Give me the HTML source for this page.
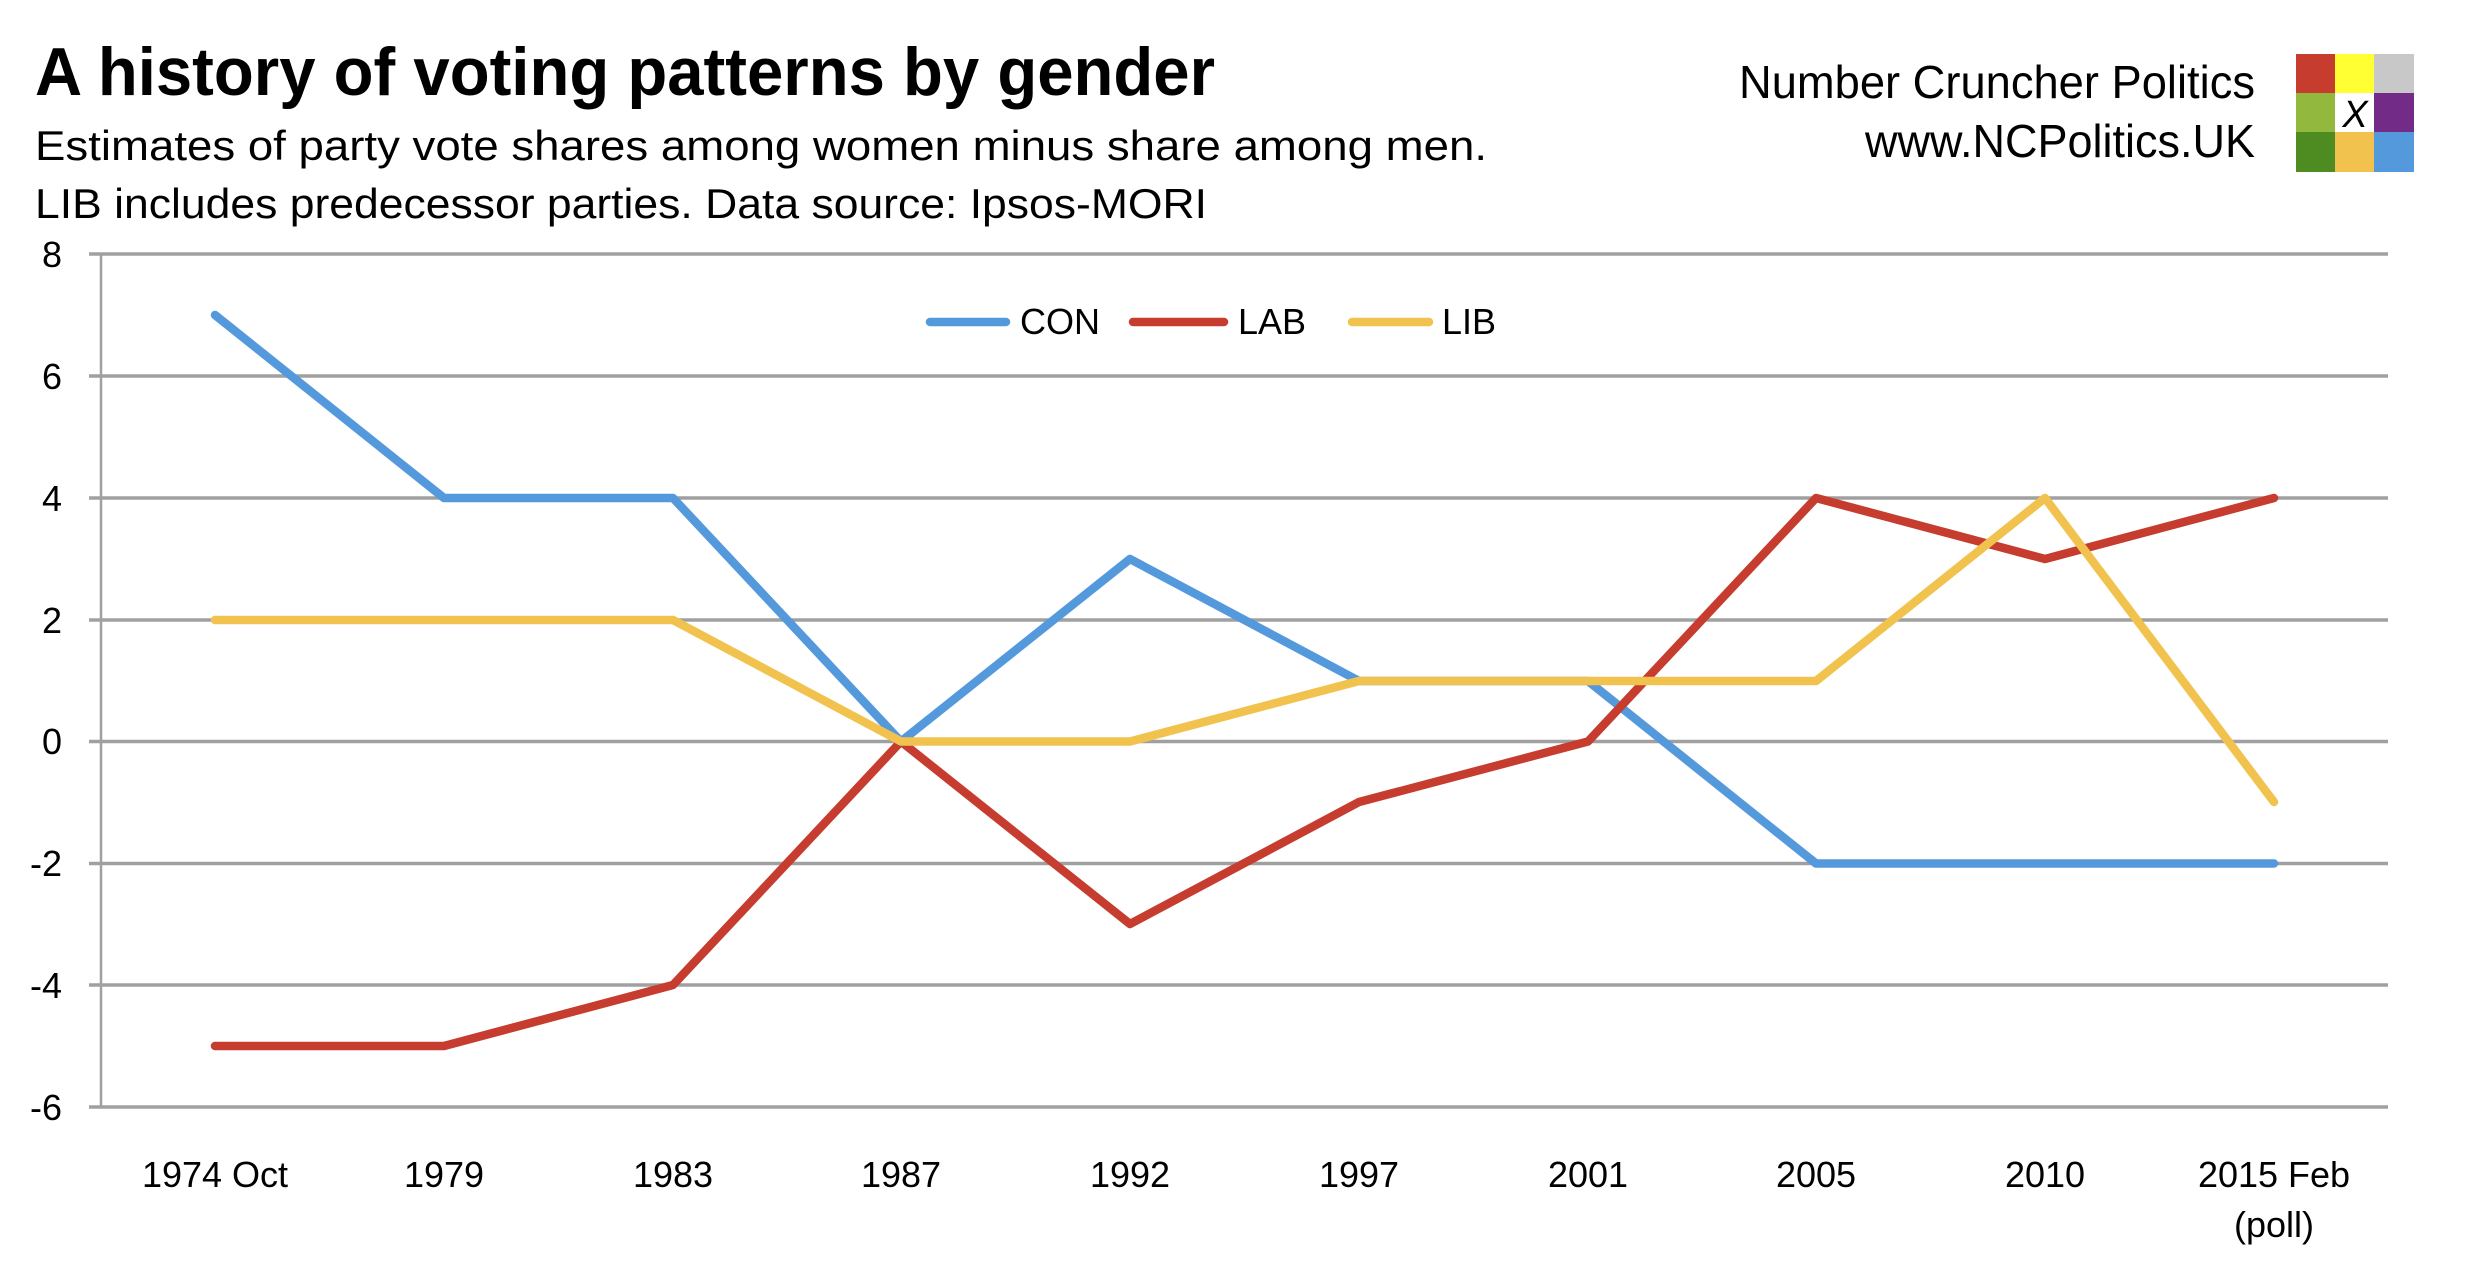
<!DOCTYPE html>
<html><head><meta charset="utf-8"><style>
html,body{margin:0;padding:0;background:#fff;}
svg{display:block;}
text{font-family:"Liberation Sans",sans-serif;fill:#000;}
</style></head><body>
<svg width="2470" height="1275" viewBox="0 0 2470 1275" xmlns="http://www.w3.org/2000/svg">
<rect width="2470" height="1275" fill="#fff"/>
<text x="35" y="95" font-size="68" font-weight="bold" textLength="1180" lengthAdjust="spacingAndGlyphs">A history of voting patterns by gender</text>
<text x="35" y="160" font-size="42" textLength="1452" lengthAdjust="spacingAndGlyphs">Estimates of party vote shares among women minus share among men.</text>
<text x="35" y="218" font-size="42" textLength="1172" lengthAdjust="spacingAndGlyphs">LIB includes predecessor parties. Data source: Ipsos-MORI</text>
<text x="1739" y="98" font-size="46" textLength="516" lengthAdjust="spacingAndGlyphs">Number Cruncher Politics</text>
<text x="1865" y="157" font-size="46" textLength="390" lengthAdjust="spacingAndGlyphs">www.NCPolitics.UK</text>
<g>
<rect x="2296" y="54" width="40" height="40" fill="#c63d2f"/>
<rect x="2335" y="54" width="40" height="40" fill="#ffff33"/>
<rect x="2374" y="54" width="40" height="40" fill="#c8c8c8"/>
<rect x="2296" y="93" width="40" height="40" fill="#92b83e"/>
<rect x="2335" y="93" width="40" height="40" fill="#fff"/>
<rect x="2374" y="93" width="40" height="40" fill="#722b87"/>
<rect x="2296" y="132" width="40" height="40" fill="#4e8b20"/>
<rect x="2335" y="132" width="40" height="40" fill="#f1c34e"/>
<rect x="2374" y="132" width="40" height="40" fill="#5599dd"/>
<text x="2355" y="127" font-size="38" font-style="italic" text-anchor="middle">X</text>
</g>
<g stroke="#a0a0a0" stroke-width="3.5">
<line x1="89" y1="254" x2="2388" y2="254"/>
<line x1="89" y1="376" x2="2388" y2="376"/>
<line x1="89" y1="498" x2="2388" y2="498"/>
<line x1="89" y1="620" x2="2388" y2="620"/>
<line x1="89" y1="741.5" x2="2388" y2="741.5"/>
<line x1="89" y1="863.5" x2="2388" y2="863.5"/>
<line x1="89" y1="985" x2="2388" y2="985"/>
<line x1="89" y1="1107" x2="2388" y2="1107"/>
</g>
<line x1="101" y1="254" x2="101" y2="1107" stroke="#a0a0a0" stroke-width="2.5"/>
<g font-size="36" text-anchor="end">
<text x="62" y="267">8</text>
<text x="62" y="389">6</text>
<text x="62" y="511">4</text>
<text x="62" y="633">2</text>
<text x="62" y="754">0</text>
<text x="62" y="876">-2</text>
<text x="62" y="998">-4</text>
<text x="62" y="1120">-6</text>
</g>
<g font-size="36" text-anchor="middle">
<text x="215" y="1187">1974 Oct</text>
<text x="444" y="1187">1979</text>
<text x="673" y="1187">1983</text>
<text x="901" y="1187">1987</text>
<text x="1130" y="1187">1992</text>
<text x="1359" y="1187">1997</text>
<text x="1588" y="1187">2001</text>
<text x="1816" y="1187">2005</text>
<text x="2045" y="1187">2010</text>
<text x="2274" y="1187">2015 Feb</text>
<text x="2274" y="1237">(poll)</text>
</g>
<g fill="none" stroke-width="8.5" stroke-linejoin="round" stroke-linecap="round">
<polyline stroke="#5599dd" points="215,315 444,498 673,498 901,741.5 1130,559 1359,681 1588,681 1816,863.5 2045,863.5 2274,863.5"/>
<polyline stroke="#c63d2f" points="215,1046 444,1046 673,985 901,741.5 1130,924 1359,802 1588,741.5 1816,498 2045,559 2274,498"/>
<polyline stroke="#f1c34e" points="215,620 444,620 673,620 901,741.5 1130,741.5 1359,681 1588,681 1816,681 2045,498 2274,802"/>
</g>
<g stroke-width="8.5" stroke-linecap="round">
<line x1="930" y1="322" x2="1006" y2="322" stroke="#5599dd"/>
<line x1="1133" y1="322" x2="1224" y2="322" stroke="#c63d2f"/>
<line x1="1352" y1="322" x2="1429" y2="322" stroke="#f1c34e"/>
</g>
<g font-size="36">
<text x="1020" y="334">CON</text>
<text x="1238" y="334">LAB</text>
<text x="1442" y="334">LIB</text>
</g>
</svg>
</body></html>
